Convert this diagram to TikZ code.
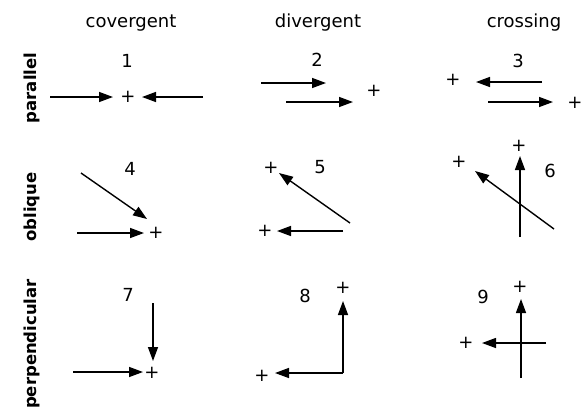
\documentclass[tikz,border=0pt]{standalone}
\usepackage{fontspec}
\setmainfont{DejaVu Sans}
\usetikzlibrary{arrows.meta}

\tikzset{
    vec/.style={line width=1.4pt, -{Triangle[length=14pt,width=10pt]}},
    head/.style={font=\fontsize{18}{20}\selectfont, anchor=base},
    side/.style={font=\fontsize{16.5}{20}\selectfont\bfseries, anchor=base, rotate=90},
    num/.style={font=\fontsize{18}{20}\selectfont, anchor=base},
    tgt/.style={font=\fontsize{18}{20}\selectfont, inner sep=0pt}
}

\begin{document}
\begin{tikzpicture}[x=1pt, y=-1pt]

\useasboundingbox (0,0) rectangle (586,413);

\node[head] (hconv) at (131,27) {covergent};
\node[head] (hdiv) at (318,27) {divergent};
\node[head] (hcross) at (524,27) {crossing};

\node[side] (lpar) at (36,88) {parallel};
\node[side] (lobl) at (36,207) {oblique};
\node[side] (lperp) at (36,344) {perpendicular};

% row 1
\node[num] (n1) at (127,67) {1};
\node[tgt] (p1) at (128,97) {+};
\coordinate (a1) at (50,97);
\coordinate (b1) at (113,97);
\coordinate (c1) at (203,97);
\coordinate (d1) at (142,97);
\draw[vec] (a1) -- (b1);
\draw[vec] (c1) -- (d1);

\node[num] (n2) at (317,66) {2};
\node[tgt] (p2) at (374,91) {+};
\coordinate (a2) at (261,83);
\coordinate (b2) at (326,83);
\coordinate (c2) at (286,102);
\coordinate (d2) at (353,102);
\draw[vec] (a2) -- (b2);
\draw[vec] (c2) -- (d2);

\node[num] (n3) at (518,67) {3};
\node[tgt] (p3a) at (453,80) {+};
\node[tgt] (p3b) at (575,103) {+};
\coordinate (a3) at (542,82);
\coordinate (b3) at (476,82);
\coordinate (c3) at (488,102);
\coordinate (d3) at (553,102);
\draw[vec] (a3) -- (b3);
\draw[vec] (c3) -- (d3);

% row 2
\node[num] (n4) at (130,175) {4};
\node[tgt] (p4) at (156,233) {+};
\coordinate (a4) at (81,173);
\coordinate (b4) at (147,219);
\coordinate (c4) at (77,233);
\coordinate (d4) at (144,233);
\draw[vec] (a4) -- (b4);
\draw[vec] (c4) -- (d4);

\node[num] (n5) at (320,173) {5};
\node[tgt] (p5a) at (271,168) {+};
\node[tgt] (p5b) at (265,231) {+};
\coordinate (a5) at (350,223);
\coordinate (b5) at (279,173);
\coordinate (c5) at (343,231);
\coordinate (d5) at (277,231);
\draw[vec] (a5) -- (b5);
\draw[vec] (c5) -- (d5);

\node[num] (n6) at (550,177) {6};
\node[tgt] (p6a) at (459,162) {+};
\node[tgt] (p6b) at (519,146) {+};
\coordinate (a6) at (520,237);
\coordinate (b6) at (520,156);
\coordinate (c6) at (554,229);
\coordinate (d6) at (475,171);
\draw[vec] (a6) -- (b6);
\draw[vec] (c6) -- (d6);

% row 3
\node[num] (n7) at (128,301) {7};
\node[tgt] (p7) at (152,373) {+};
\coordinate (a7) at (153,303);
\coordinate (b7) at (153,361);
\coordinate (c7) at (73,372);
\coordinate (d7) at (143,372);
\draw[vec] (a7) -- (b7);
\draw[vec] (c7) -- (d7);

\node[num] (n8) at (305,302) {8};
\node[tgt] (p8a) at (343,288) {+};
\node[tgt] (p8b) at (262,376) {+};
\coordinate (a8) at (343,373);
\coordinate (b8) at (343,301);
\coordinate (c8) at (343,373);
\coordinate (d8) at (275,373);
\draw[vec] (a8) -- (b8);
\draw[vec] (c8) -- (d8);

\node[num] (n9) at (483,303) {9};
\node[tgt] (p9a) at (520,287) {+};
\node[tgt] (p9b) at (466,343) {+};
\coordinate (a9) at (521,378);
\coordinate (b9) at (521,299);
\coordinate (c9) at (546,343);
\coordinate (d9) at (482,343);
\draw[vec] (a9) -- (b9);
\draw[vec] (c9) -- (d9);

\end{tikzpicture}
\end{document}
